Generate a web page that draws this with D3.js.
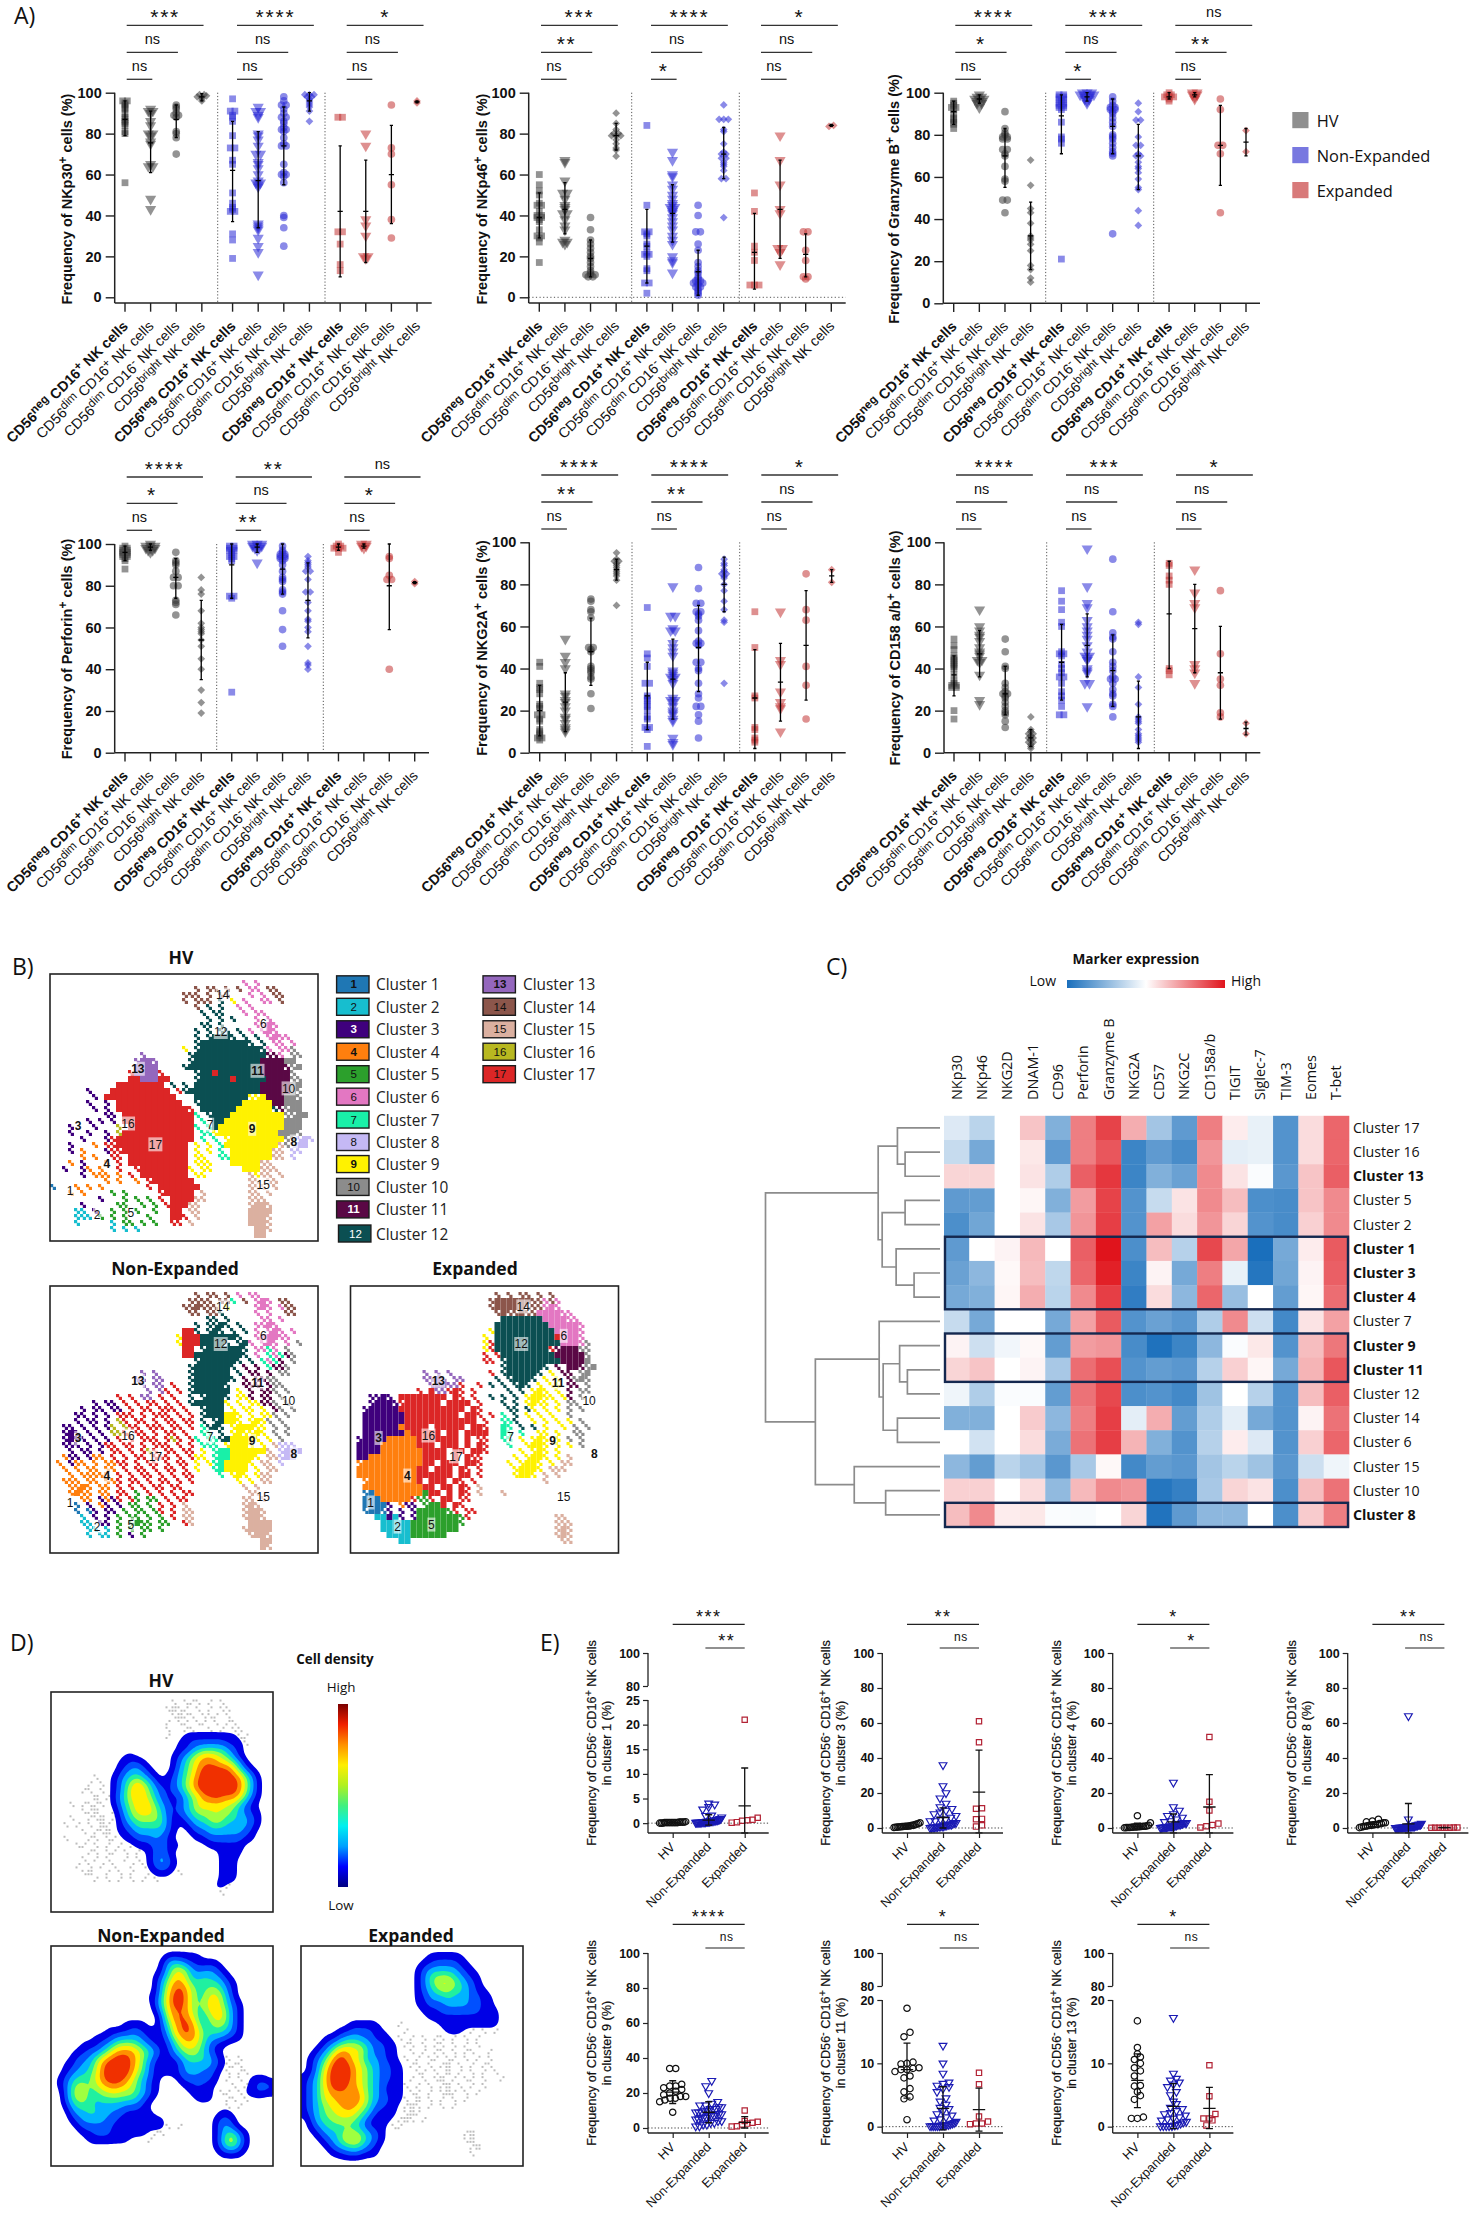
<!DOCTYPE html>
<html>
<head>
<meta charset="utf-8">
<script src="https://cdn.jsdelivr.net/npm/d3@7"></script>
<style>
  body { margin: 0; background: #fff; }
  text { font-family: "Liberation Sans", Arial, sans-serif; fill: #111; }
  .cal text, text.cal { font-family: "Open Sans", sans-serif; }
</style>
</head>
<body>
<div id="viz-container"></div>
<script>
// ---------- panel A values (%), 12 groups each: HV, Non-Expanded, Expanded x 4 subsets
const subsetLabels = ["CD56^{neg} CD16^{+} NK cells", "CD56^{dim} CD16^{+} NK cells", "CD56^{dim} CD16^{-} NK cells", "CD56^{bright} NK cells"];

const nkp30Values = [
  [96,96,95,94,93,92,90,88,87,86,85,84,81,80,56],
  [92,91,91,90,86,84,80,80,79,76,75,65,64,64,48,43],
  [94,93,92,90,89,89,88,81,80,78,70],
  [99,99,98.5,98,98,97,96],
  [97,91,91,89,88,86,79,73,73,67,65,51,46,44,43,42,42,31,28,19],
  [93,91,91,89,88,80,79,77,74,70,70,66,65,63,60,57,56,56,55,54,36,35,34,33,29,25,22,11],
  [98,96,94,94,92,90,88,88,86,85,83,82,82,81,78,75,74,74,65,61,60,60,59,56,40,39,34,25],
  [99,99,99,98,98,97,96,95,94,93,91,86],
  [88,88,32,32,26,16,13],
  [80,74,38,35,30,20,20,19],
  [94,73,70,55,38,29],
  [96,95]
];
const nkp30Stats = [[87,79,96],[75.5,61,91],[87,78,94],[98,96,99.5],[62,37,86],[57,34,81],[74,55,93],[96,91,100],[42,10,74],[42,17,67],[60,36,84],[95.5,95,96]];

const nkp46Values = [
  [60,55,52,50,46,45,45,42,40,40,39,39,38,37,33,30,30,29,27,17],
  [67,66,57,51,51,48,45,44,43,41,41,38,35,33,28,27,27,26],
  [39,33,28,26,24,22,20,19,17,15,13,12,11,11,11,10,10],
  [90,85,82,80,80,79,79,79,77,75,73,72,69],
  [84,45,32,32,31,30,26,25,22,21,21,20,14,13,7,7,2],
  [71,67,60,59,55,53,50,48,46,45,44,44,43,42,41,39,37,35,33,30,28,26,20,18,17,12],
  [45,40,32,32,26,23,17,15,13,12,10,9,8,8,7,7,7,6,5,5,4,3,2,1],
  [94,87,87,87,82,81,75,71,70,70,68,68,66,65,64,62,58,58,39],
  [51,42,25,22,18,6,6,6],
  [79,67,55,43,41,24,24,22,16],
  [32,32,23,18,10,10,9],
  [84,83.5]
];
const nkp46Stats = [[39,29,51],[43,31,56],[19,10,28],[79,72,85],[25,7,43],[41,27,55],[12.5,1,23],[70,58,83],[22,4,41],[43,19,67],[21,10,31],[84,83.5,84.5]];

const granzymeValues = [
  [96,95,94,93,93,92,90,88,87,86,85,83],
  [99,98,98,97,97,97,96,96,95,95,93],
  [91,83,81,80,79,79,78,78,73,73,71,70,65,59,58,49,49,43],
  [68,56,45,43,38,32,31,30,28,25,18,16,12,10],
  [99,99,98,98,97,97,96,95,95,94,94,93,93,92,86,79,78,76,21],
  [100,100,100,99,99,99,99,98,98,97,97,96,95],
  [98,96,94,93,93,92,92,91,90,88,86,84,80,79,78,76,74,72,71,70,33],
  [95,91,87,87,79,75,75,71,70,70,67,65,64,62,59,55,54,44,37],
  [100,99,99,98,98,98,97,96],
  [100,100,99,99,98,97],
  [97,92,75,75,71,43],
  [82,72]
];
const granzymeStats = [[91,85,96],[97,95,99],[70,55,83],[32,16,48],[89,71,99],[98,96,100],[84,71,97],[70,54,85],[98,97,100],[99,98,100],[75,56,94],[76.5,70,83]];

const perforinValues = [
  [99,98,98,97,97,96,96,95,95,94,94,93,92,88],
  [100,99,99,99,98,98,98,97,97,96],
  [96,92,91,90,87,84,84,80,80,73,72,71,66],
  [84,78,76,68,62,60,59,58,57,54,51,45,40,30,24,19],
  [99,99,98,98,97,97,96,95,94,94,93,92,75,75,74,29],
  [100,100,100,99,99,99,98,98,97,91],
  [99,97,96,95,95,94,94,93,93,92,90,87,84,83,82,78,77,76,68,59,51],
  [94,92,91,90,89,87,87,83,77,77,72,68,64,63,60,58,51,43,42,40],
  [100,99,99,98,98,98,96],
  [100,100,99,99,98],
  [94,93,85,83,83,40],
  [82,81]
];
const perforinStats = [[96,92,99],[98.5,97,100],[84,74,93],[54,35,73],[90,74,100],[98.5,96,100],[88,76,100],[73,55,91],[98.5,97,100],[99,98,100],[80,59,100],[81.5,81,82]];

const nkg2aValues = [
  [43,41,33,31,30,28,23,22,21,18,18,16,15,11,10,9,8,7,7,6],
  [54,46,43,40,28,27,25,24,22,20,17,16,14,12,11,10],
  [73,72,68,67,64,50,50,49,48,41,40,39,38,36,35,28,21],
  [95,92,91,91,90,89,88,87,86,85,84,82,70],
  [69,47,45,41,33,33,27,26,25,23,22,20,17,16,12,12,11,3],
  [79,65,65,59,58,58,52,50,48,46,39,38,37,36,36,35,33,26,25,25,24,22,20,19,18,16,15,7,5,4],
  [88,78,71,71,67,67,66,65,63,58,53,52,52,51,43,43,40,39,33,28,26,22,22,18,15,7],
  [92,90,89,87,86,85,85,84,83,80,77,72,68,63,62,33],
  [67,50,27,26,12,11,7,6,5],
  [67,44,42,29,24,22,21,10],
  [85,68,63,41,32,16],
  [87,81]
];
const nkg2aStats = [[20,8,32],[24,10,38],[48,32,64],[87,82,92],[27,11,43],[35,16,54],[50,29,70],[80,67,93],[26,2,49],[33.5,15,52],[51,25,77],[84,81,87]];

const cd158Values = [
  [54,51,49,46,45,44,43,42,41,40,37,34,33,32,32,31,31,20,16],
  [68,60,58,56,55,53,50,48,47,46,44,44,43,37,25,23],
  [54,48,41,40,33,31,29,28,28,27,26,24,22,20,19,18,15,12],
  [17,11,10,9,9,8,7,7,6,5,5,4,3,2],
  [77,72,68,62,60,48,47,47,46,42,40,38,36,36,33,29,27,25,22,18,18],
  [97,79,71,69,63,60,58,56,54,51,48,46,46,45,44,40,39,38,33,33,22],
  [92,67,57,55,54,48,43,41,39,36,35,35,33,30,28,27,23,22,17],
  [62,61,36,31,23,17,16,15,14,11,9,8,7,6,5],
  [90,89,84,82,80,40,39,37],
  [87,76,71,69,42,40,38,33],
  [77,47,35,32,19,17],
  [14,9]
];
const cd158Stats = [[37,27,46],[47,36,58],[28,18,41],[7,3,11],[43,25,61],[51,36,66],[39,22,56],[17,2,34],[66,40,91],[59,38,80],[38,16,60],[11.5,8.5,14.5]];

const nkp30Sig = ["***","ns","ns","****","ns","ns","*","ns","ns"];
const nkp46Sig = ["***","**","ns","****","ns","*","*","ns","ns"];
const granzymeSig = ["****","*","ns","***","ns","*","ns","**","ns"];
const perforinSig = ["****","*","ns","**","ns","**","ns","*","ns"];
const nkg2aSig = ["****","**","ns","****","**","ns","*","ns","ns"];
const cd158Sig = ["****","ns","ns","***","ns","ns","*","ns","ns"];

// ---------- panel C
const markers = ["NKp30","NKp46","NKG2D","DNAM-1","CD96","Perforin","Granzyme B","NKG2A","CD57","NKG2C","CD158a/b","TIGIT","Siglec-7","TIM-3","Eomes","T-bet"];
const heatRows = ["17","16","13","5","2","1","3","4","7","9","11","12","14","6","15","10","8"];
const heatBold = ["13","1","3","4","9","11","8"];
const heatValues = [
  [-.15,-.3,0,.25,-.55,.55,.8,.35,-.4,-.7,.55,.08,-.1,-.75,.15,.65],
  [-.25,-.6,0,.1,-.7,.55,.72,-.85,-.7,-.8,.45,-.12,-.1,-.75,.15,.65],
  [.18,.18,0,.12,-.35,.68,.85,-.85,-.55,-.65,.5,.12,-.02,-.72,.25,.68],
  [-.7,-.68,0,.04,-.55,.42,.8,-.75,-.25,.12,.5,.28,-.78,-.8,.25,.5],
  [-.78,-.62,0,.12,-.38,.45,.82,-.75,.4,.15,.45,.18,-.75,-.8,.2,.5],
  [-.7,0,.05,.3,0,.68,1,-.78,.28,-.32,.78,.38,-1,-.6,.08,.7],
  [-.65,-.5,.03,.28,-.28,.65,.95,-.85,.05,-.6,.55,-.1,-.95,-.62,.05,.68],
  [-.6,-.55,.04,.35,-.3,.5,.82,-.9,.15,-.5,.65,-.45,0,-.68,.04,.62],
  [-.25,-.6,0,0,-.6,.4,.7,-.75,-.65,-.72,-.35,.5,-.22,-.82,.12,.4],
  [.05,-.22,-.06,.03,-.68,.42,.45,-.8,-.98,-.85,-.5,-.02,.1,-.75,.28,.58],
  [.18,.25,0,.05,-.38,.62,.75,-.75,-.68,-.72,-.32,.2,.04,-.6,.32,.72],
  [-.07,-.35,-.02,-.02,-.68,.6,.78,-.78,-.75,-.82,-.42,0,-.32,-.75,.28,.68],
  [-.55,-.55,0,.22,-.5,.55,.82,-.12,.35,-.68,-.35,-.12,-.6,-.75,.05,.6],
  [0,-.2,0,.15,-.58,.6,.82,.32,-.55,-.75,-.32,.08,-.15,-.75,.2,.65],
  [-.5,-.68,-.3,-.4,-.72,-.38,.03,-.82,-.68,-.72,-.4,-.3,-.42,-.72,-.22,-.07],
  [.2,.2,0,.15,-.48,.3,.5,.45,-.95,-.88,-.38,.18,.12,-.78,.28,.6],
  [.28,.5,.08,.1,-.02,-.03,0,.18,-.97,-.7,-.5,-.5,0,-.78,.22,.55]
];
// dendrogram: [merge height, child, child]
const dendroTree = [175,
  [62, [42.7,"17",[35,"16","13"]], [58,[35,"5","2"],[44,"1",[26,"3","4"]]]],
  [125, [61,"7",[57,[40.5,"9",[32.7,"11","12"]],[42.7,"14","6"]]], [86,"15",[54.5,"10","8"]]]];

// ---------- panel E
const eGroups = ["HV","Non-Expanded","Expanded"];
const cluster1Values = [
  [.3,.2,.2,.2,.2,.1,.1,.1,.1,.1,.1,.1,.1,.1,0,0,0],
  [4,3.8,3.3,2.8,1.6,1.5,1.2,.9,.8,.7,.6,.6,.5,.5,.4,.4,.4,.3,.3,.3,.3,.2,.2,.2,.2,.1,.1,.1,.1,.1,.1],
  [21,1.1,.7,.6,.5,.2,.1]];
const cluster1Stats = [[.1,0,.25],[.6,-.4,1.7],[3.5,-2,11.2]];
const cluster3Values = [
  [3,2.5,2.2,2,1.5,1.5,1.2,1.1,1,1,.9,.8,.7,.6,.5,.4,.3],
  [36,24,20,17,14,12,11,10,9,8,7,6,5,5,4,4,3,3,2.5,2,2,2,1.5,1.5,1,1,1,.8,.6,.5,.4,.3,.2,.1],
  [61,49,11.3,11,5.2,5,1.5,.8]];
const cluster3Stats = [[1.2,.4,2],[6,0,11.5],[20.5,-2.8,44.5]];
const cluster4Values = [
  [7,3,1.5,1.2,1,1,.9,.8,.7,.6,.6,.5,.4,.3,.3,.2,.1],
  [26,12,10,8,7,6,5,4,3.5,3,3,3,2.5,2.5,2,2,2,1.5,1.5,1,1,1,1,.8,.6,.5,.5,.4,.3,.2,.1],
  [52,15,10,2.5,1.7,1,.3]];
const cluster4Stats = [[1,-.5,2.7],[3.5,-2.8,8],[12,-2.8,30.5]];
const cluster8Values = [
  [5,4,3.5,3,3,2.5,2.5,2,2,1.8,1.5,1.5,1.2,1,.8,.5,.2],
  [64,5,2.5,2,2,2,1.5,1.5,1.5,1,1,1,1,.8,.8,.8,.6,.6,.5,.5,.4,.4,.3,.3,.2,.2,.1,.1,.1,.1],
  [.3,.3,.2,.2,.2,.1,.1,.1]];
const cluster8Stats = [[2,.7,3.3],[2.3,-2.8,14],[.2,.1,.3]];
const cluster9Values = [
  [34,34,25,24,24,23,22,21,20,19,18,18,17,17,16,15,9],
  [27,24,20,15,14,13,13,12,12,11,11,11,10,10,9,9,9,8,8,8,7,7,7,6,6,6,5,5,4,4,3,3,2,2,1,1],
  [10,4,3.5,3,2.5,2,1,.8]];
const cluster9Stats = [[20.5,14,27],[9,3,15],[3.2,0,6.5]];
const cluster11Values = [
  [18.7,14.9,14.2,10.2,10,9.9,9.3,9.2,9,9,8.7,8,7.7,6,5.5,4.7,4.4,1.1],
  [12.8,10,8.4,7,6.8,6.5,6.3,6,5.5,4.5,4,3.5,3,2.8,2.5,2,1.8,1.5,1.2,1,.8,.6,.5,.4,.3,.3,.2,.2,.2,.1,.1,.1,.1,.1,.1],
  [8.5,6.7,1.6,.8,.5,.5,.4]];
const cluster11Stats = [[9,4.5,13.2],[2.9,-.5,6.3],[2.7,-.7,6.1]];
const cluster13Values = [
  [16.7,12.5,11.5,11,10.6,10,9.3,8.8,8,6.5,6.4,5.5,4.9,4.3,1.5,1.3,1.3],
  [17.2,8.4,7.6,7.3,7,6.7,6.3,5.5,5,4,3.6,3,2.8,2.5,2.2,2,1.8,1.5,1.3,1.2,1,.8,.7,.5,.3,.2,.1,.1,.1,.1,.1],
  [9.7,4.8,2,1.3,1.3,1,.2]];
const cluster13Stats = [[7.3,3,11.5],[3.2,-.3,6.8],[2.9,-.3,6.2]];

// ---------- panel B: clusters and cell maps
// a..q = clusters 1..17, lower case = scattered cell, upper case = filled area
const clusterColors = ["#1f77b4","#17becf","#3f007d","#ff7f0e","#2ca02c","#e377c2","#19f0a8","#c5b9f5","#fff200","#8c8c8c","#5a0845","#0b4f52","#9467bd","#8c564b","#dbb0a0","#b8b820","#dc2626"];
const hvCells = ["",
"................................f.f",
"........................n.nn.n.n.ff.nn",
"......................nnn.n.nn...f.f.nn",
"......................n.nnn.l.i.f..ff.n",
"........................n.l.l..f.f",
".........................l.ll...f.ff",
"..........................l.l.l...f.f",
".........................ll.l.....ffFf",
"........................l.l.ll.l.f.fFf",
"........................l.lLlLl.l.l.fFff",
"........................lLLLLLLLLl.l.ff.f",
"......................i.lLLLLLLLLLLlf.ffj",
"...............m.......lLLLLLLLLLLLLkkf.jj",
"..............mMMm.....lLLLLLLLLLLLKKKKjJ",
"..............MMMM....lLLLLLLLLLLLLKKKKkjJ",
".............qMMMMq.....lLLqLLLLLLLKKKKKj",
".............QQMMMQQ....lLLLLLqLLLLLKKKKjj",
"...........QQQQQQQQ.l.l.LLLLLLLLLLLKKKKKjJ",
"......c...QQQQQQQQQQ.qlLLLLLLLLLLLLkKKKKJj",
".......c.QQQQqQQQQQQQ...LLLLLLLLLiiIKKKjJj",
"......c..c.QQQQQQQQQQQ..lLLLLLLLIIIIIkKjJJ",
".......c.c.QQQQQQQQQQQQq.LLLLLLIIIIIIlkjJJ",
".........cc.QQQQQQQQQQQQg.lLLLIIIIIIIIIjjJJ",
"......c.c.c.QQQQQQQQQQQQ.g.LLIIIIIIIIIIjJJ",
"...c...c...p.QQQQqQQQQQQg.gLIIIIIIIIIIIjJJ",
"...c..c..c.pQQQQQQQQQQQQ.ggiIIIIIIIIIIjJJj",
".....c...cqQQQQQQQQQQQQQ.g.g.iIIIIIIIIIjjhHh",
"...c...d.qqQQQqQQQQQQQQ.i.i.gIIIIIIIIIojhHH",
"...c.d...cqqQQQQQQQQQQQ.i.i.g.IIIIIIIoo.hh",
".....d.d..qq.QQQQQQQQQQ.ii..ggIIIIIIIoo.h",
"...d.c...d.q.QQQqQQQQQQ.iii...IIIIIoo",
"..c..cd.d..q..qQQQQQQQQi.ii.....IiIooo",
".....c.ddd.d.q.QQQQQQQQ.ii.......oioo.o",
".........d.d..d.qQQQQQQQ.........oo.oo",
"a...d.d.d.......q.QQQQQQQ........ooo.o",
"...d.d....e.e.....qQQQQQ.o.......oo.o",
"........c...e.e.e.q.QQQQoo.......ooo",
".....c.....ee..e.e.qQQQoo........oOOo",
"....bb.c..e.e.e..e..QQ.oo........OOOO",
"....bbb.e.e.e...e...QQq.o........OOOo",
"....b.....b.ee.e.e..qq.o.........OOOo",
"..........b.b.b...................OOo",
"..................................OO"];
const nonExpandedCells = ["",
"........................n.nn.n.f.ff",
".......................nnnn.nng.n.fFf.nn",
"......................nnNnnn.i....fFf.fnn",
".......................nn.nnl.....f.f..nn",
"..........................ll.l.....ff.f",
"........................l.llLl.l..ffFf",
"......................QQl.lLl.l.l.f.fFf.f",
".....................iQQQlLlLlLl..fFfFff",
".....................iQQQLlLLl.lLf.fFf.f.j",
"......................QQ.lLlLLlLl.ffgf.j",
"......................QQlLlLlLlLl.f.gfgkj",
"........................lLlLLlLl.l.gfgk.j",
".......................lLlLlLLl.k.k.gkkj",
"...............m.m.....lLLlLlL.l.kk.k.jj",
"..............mm.mm....lLlLLlLl.k.kkjj",
"...............m.mm.q..lLlLlLl..kkk.kjj",
"................m.mq.q.lLlLLlL.i.k.kkj.j",
"...........q.q.mm.q.q..l.lLlLl.iik.kk.j",
".......c.cc.q.q.qq.q.q.lLlLlLi.i.iikkj.j",
".....c.cc.cc.q.qq.qqq.q..lLlL.i.ii.i.kj.j",
"....cc.c.c.qqq.q.qqq.q.q.lLlLiIi.i.iij.j",
"....c.cc.c.pq.qq.q.qq.qq.l.lLiIi.iIij.j",
"..cc.c.c.cp.pqq.qqq.qq.q.glLl.iIiIii.j.j",
"..cCc.c.c.ppq.qq.q.qq.q..gg.l.iIiiIi.j.j",
"..cCcc.c.c.q.q.qqq.qpq.qg.gglLiIiIi.i.j",
"..ccc.c.cqq.qq.q.qqq.q.q.ggg.iIiIi.i.ohhh",
"...c.cc.c.qq.q.qpq.qq.qq.i.gGGiIiIiIo.hHHH",
"..dcc.cdd.q.q.qq.qqq.q.qii.gGGiIiIi.oohHH",
".d.cdd.d.ddqq.q.qq.q.qq.i.igGiIiIi.oo.h",
"..d.d.dd.dd.q.qq.q.qq.q.i..gGiIiI.i.oo",
"...d.ddddd.q.q.qq.q.q.qq....g.iIi.ioo",
"..ddd.dd.ddq.qq.q.qq.q.q.......i.i.oo",
"...ddDd.dd.q.q.q.qq.qq..........o.o",
"...dDdd.dd.qq.e.q.q.q.qq.........oo",
".....dd.cdcq.qe.ee.q.qq.........oo.o",
"....a.c.dc.c.ee.e.q.q.o.........oOo",
"....a.ac.cc.e.ee.eq.q.oo........oOOo",
".....b.c.c.e.ee.e.e.q.oo........oOOo",
".....bb.cc.e.eEee.ee..qo.........OOOO",
"......bb.b.e.e.ee.e.............oOOOO",
"......b.bb.e.c.e.................oOOo",
"...................................OO",
"...................................Oo"];
const expandedCells = ["",
"........................n.n.nn.n.n",
".......................nNnNnNNnnfnf",
".......................nNNNnNnnnfFf",
"........................nNnnNnnFfFFff",
".........................LLLLLLLFFFFff",
"........................LLLLLLLLLFFFFFf",
".......................iLLLLLLLLLLFFFFf",
"......................i.LLLLLLLLLLqFFFf",
"......................iqLLLLLLLLLLlFfFfj",
"......................iqLLLLLLLLLqkKkKjj",
"......................q.qLLLLLLLLLkKKKKj",
"......................qq.lLLLLLLLLLkKKKJ",
".........................lLlLLlLl.k.KKkjJ",
"............m.m.m......q.lLlLlLl.i.kk.jJ",
"............mmMm.mm.....l.lLlLl.i.i.kjJj",
".............mMMmmq..q.l.l.lLl.i.ii.kk.j",
"...........q.QmmqQq.q.....l.l.iIi.i.k.jj",
"...ccCc.QQQQQQqQ.Qq.q..l.l.l.iIIii.ik.j",
"...cCCCcqQQQQQQ.QQqQ.q...l.l.iIii.i.jj",
"..cCCCCCqQQQQQQQqQQ.Qq....ll.li.i.i.j.j",
"..CCCCCCCqQQQQQqQQ.QQq.q.g.l.i.i.i..j",
"..CCCCCCCQQQqQQQQQqQQ.q..ggl..i.i.i.i.j",
"..CCCCCCdQQQQ.QQQQQ.QQq..Gg.l.l.i..i.j.j",
"..CCCCCCCDQQQQQ.QQ.QQqQ..Gg.g..ii.i..jj",
".cCCCCDDDDDQQqQQQQ.Q.qq..gg.i.iIi.i.j.j",
".CCCCDDDDDDQQQ.QQQ.Q.Qq...g..iIIi.i.i.j",
".CCCCDDDDDDDQQQQ.QQ.QQq.....i.iIi.i",
".CCdDDDDDDDDQqQQ.Q.Qqq.....i.iIIi.i.o",
".dDDDDDDDDDDQQ.QQQ.QQq....i.iIIi.i.oo",
".DDDDDDDDDDqQ.QQQ.Qq.q.....iIIIi.ooo",
".DDDDDDDDDDQQQqQQ.QQ.q.....iIIi.o.o",
"..dDDDDDDDDQ.QQQ.Qq.q...........o",
"..DDDDDDDDDDqQ.QQ.Qq.o",
"..aADDDDDDDDeQQ.Q.Qq.o...o",
"..AAAdDDDDqeeq.QQ.qq",
"..AAaAc.dcc.eEeQ.Qq",
"..aAAac.c.cEeEEEeq.qq",
"....BBcBc.cEEEEEEEeq..............oo",
".....BBBBbEEEEEEEEe...............ooo",
".....BBBBBEEEEEEEE................oOo",
"......BBBbEEEEEE..................oOo",
"........BB.........................oo"];

// ---------- panel D: density levels 1..9, + : * = grey background cells
const hvDensity = ["",
"....................+.+:+.:.+",
"...................+*+:.+.:.++",
"....................+*:+.++:.+",
"...................:.+:.+:.+.:+",
"...................+..:+..+.:.++",
"...................:..111111111+:",
".....................11222222111+",
".....................11234444321",
"............11......123567765421",
"...........11221....1245677766531",
"...........123321...13457888886421",
".......+..12344321.1234678888887531",
"......:.+.1245754211235688988887531",
".....:+.+.1246764321234678888887531",
".......*.:1346665321113457787776421",
"...+.:+:+.124566643212346666655321",
".....+:*..:235666532123455555543211",
"...+..:+*.:134555542112344565443321",
"..+.:.+.*:.1234444421.1233444333321",
".....+.:+*.1123333321..12233333321",
"..+...:+.+:.11222321....1122222211",
"....+:.+.:.:.:11122211....111111",
"......:+.+:.+.:.1221........1111",
".....+.:.+..:.+.12421.......111",
"....:.+.:.+..:.+12321.......111",
".....+*..:.+.:..:111.+......111",
".......:.+.:.+.:.+..........111",
"...........................11:",
"............................+"];
const nonExpandedDensity = ["",
"...................111111",
"..................1343211111",
"..................13565322321",
".................1246653343321",
".................13577644444321",
".................13678754455421",
"................114688754466531",
".................246887545665321",
".................136777544666421",
"..................25787643566421",
"............1111..24678753455421",
".........11112211113678764444321",
".......1112333321112567764332211",
".....111234555432111356654211",
"....112234677765431134555321",
"...12234678887643111124444321+.+",
"..112335788887642111113333321+:+",
"..12334578988754211112333221.+.:+",
".12344467888764321...1222221.:.+.111",
".12455456777654311....11211...+.:12321",
"..2465445565554321.....1111.+:.+11211",
"..245543444444321.......111..:+.+",
"..13444333332221.............+.:",
"...23344332211111...........11",
"...1233332211111111........1221",
"....122222111111111+.:.....1331",
".....11222111111.:+........124421",
"......1111111...:..........136631",
"...........................124421",
"............................1111"];
const expandedDensity = ["",
".....................111111",
"....................11222211",
"...................1233333211",
"...................12455543211",
"...................12456654321",
"...................123455443211",
"...................1133343332211",
"...................1122233332211",
"....................1112222222111",
".....................111111111111",
"........11111...:......1111111111",
"......11222211...:......111.:.+.:",
"....11233322111.+.:.+.:+.:.+.:",
"...1234555432211.:+.+.:+.+.:.+.",
"..12357766532211..+.:.:+.+.:+..:",
".123578765423211.+.:.+:.+:.+.:.+.",
".1246888765432211.:+.+.:*.+.:.:+",
".1257898765432211..+:.+.*.:.+.:.+",
"12357888765432211.:.+.+*.:.+:.+..:",
"12357887765432111+.:.+.:*.+.:.+.",
"12356777775432111.+:.:.+*:.+.:",
"12356677876432211+.*.+.:.+.:",
"1234566776542211.:*+.:.+.:",
"1234556665431111.+*:.",
".13445555431111.:*+.:",
".1234444432111.+:..",
"..123345554321.............:*",
"...12346664321.............+*",
"....123344321...............:*",
".....11222111...............+"];

// ---------- layout
const svgW = 1471, svgH = 2215;
const svg = d3.select("#viz-container").append("svg").attr("width", svgW).attr("height", svgH);
const axisColor = "#222";

// writes "CD56^{neg} CD16^{+}" with real superscripts
function rich(sel, str) {
  str.split(/(\^\{[^}]*\})/).forEach((part) => {
    if (!part) return;
    if (part[0] === "^") {
      sel.append("tspan").attr("baseline-shift", "38%").attr("font-size", "82%").text(part.slice(2, -1));
    } else {
      sel.append("tspan").text(part);
    }
  });
}

// bins by pixel height and spreads each bin symmetrically, like a column scatter
function swarm(values, y, binH, step, maxHalf) {
  const sorted = values.slice().sort((a, b) => a - b);
  const out = [];
  let bin = [];
  const flush = () => {
    const st = bin.length > 1 ? Math.min(step, (2 * maxHalf) / (bin.length - 1)) : 0;
    bin.forEach((v, i) => out.push({ v, dx: (i - (bin.length - 1) / 2) * st }));
    bin = [];
  };
  sorted.forEach((v) => {
    if (bin.length && Math.abs(y(v) - y(bin[0])) > binH) flush();
    bin.push(v);
  });
  flush();
  return out;
}

const shapes = [d3.symbolSquare, d3.symbolTriangle, d3.symbolCircle, d3.symbolSquare];
function markerPath(shape, size) {
  return d3.symbol().type(shapes[shape]).size(size)();
}
function markerTransform(shape, x, y) {
  if (shape === 1) return `translate(${x},${y}) rotate(180)`;
  if (shape === 3) return `translate(${x},${y}) rotate(45)`;
  return `translate(${x},${y})`;
}

// ---------- panel A
const aColors = ["#3a3a3a", "#2a2ad6", "#c23434"];
const aPanels = [
  { title: "Frequency of NKp30^{+} cells (%)", values: nkp30Values, stats: nkp30Stats, sig: nkp30Sig, ax: 114.7, y100: 92.7, y0: 297.3, axisY: 303, right: 431.7, t0: 125, t11: 417, div: [217.7, 325], titleX: 66.7, titleY: 199, sigY: [25.3, 52.3, 79.3], sigX: [126.7, 237, 346.7], zero: false },
  { title: "Frequency of NKp46^{+} cells (%)", values: nkp46Values, stats: nkp46Stats, sig: nkp46Sig, ax: 528.7, y100: 92.7, y0: 297.3, axisY: 303, right: 845.7, t0: 539.3, t11: 831.3, div: [631.7, 739.3], titleX: 481.7, titleY: 199, sigY: [25.3, 52.3, 79.3], sigX: [541, 651, 761], zero: true },
  { title: "Frequency of Granzyme B^{+} cells (%)", values: granzymeValues, stats: granzymeStats, sig: granzymeSig, ax: 943.3, y100: 92.7, y0: 303.3, axisY: 303.3, right: 1260, t0: 953.7, t11: 1246, div: [1045.7, 1153.7], titleX: 894, titleY: 199, sigY: [25.3, 52.3, 79.3], sigX: [955.3, 1065.3, 1175.3], zero: false },
  { title: "Frequency of Perforin^{+} cells (%)", values: perforinValues, stats: perforinStats, sig: perforinSig, ax: 114.7, y100: 544, y0: 752.7, axisY: 752.7, right: 429, t0: 125, t11: 414.7, div: [216.7, 323.3], titleX: 66.7, titleY: 649, sigY: [477, 503.3, 530.3], sigX: [126.7, 235.7, 344.3], zero: false },
  { title: "Frequency of NKG2A^{+} cells (%)", values: nkg2aValues, stats: nkg2aStats, sig: nkg2aSig, ax: 529.3, y100: 542.3, y0: 752.7, axisY: 752.7, right: 845.7, t0: 539.7, t11: 831.7, div: [632, 739.7], titleX: 481.7, titleY: 648, sigY: [475, 502, 529], sigX: [541.3, 651.3, 761.3], zero: false },
  { title: "Frequency of CD158 a/b^{+} cells (%)", values: cd158Values, stats: cd158Stats, sig: cd158Sig, ax: 944, y100: 542.3, y0: 752.7, axisY: 752.7, right: 1260.3, t0: 954, t11: 1246, div: [1046.7, 1154.3], titleX: 895, titleY: 648, sigY: [475, 502, 529], sigX: [956, 1066, 1176], zero: false }
];

aPanels.forEach((p) => {
  const g = svg.append("g");
  const y = d3.scaleLinear().domain([0, 100]).range([p.y0, p.y100]);
  const yAxisScale = d3.scaleLinear().domain([y.invert(p.axisY), 100]).range([p.axisY, p.y100]);
  const slot = (i) => i + 0.2 * Math.floor(i / 4);
  const x = d3.scaleLinear().domain([slot(0), slot(11)]).range([p.t0, p.t11]);

  // group dividers and zero line
  p.div.forEach((d) => g.append("line").attr("x1", d).attr("x2", d).attr("y1", p.y100).attr("y2", p.axisY)
    .attr("stroke", "#555").attr("stroke-width", 1).attr("stroke-dasharray", "1.2,2"));
  if (p.zero) g.append("line").attr("x1", p.ax).attr("x2", p.right).attr("y1", p.y0).attr("y2", p.y0)
    .attr("stroke", "#555").attr("stroke-width", 1).attr("stroke-dasharray", "1.2,2.4");

  // points
  p.values.forEach((vals, i) => {
    const group = Math.floor(i / 4), shape = i % 4;
    const px = x(slot(i));
    const size = shape === 3 ? 30 : shape === 1 ? 54 : 46;
    g.append("g").selectAll("path").data(swarm(vals, y, 2, 4.6, 7)).join("path")
      .attr("d", markerPath(shape, size))
      .attr("transform", (d) => markerTransform(shape, px + d.dx, y(d.v)))
      .attr("fill", aColors[group]).attr("fill-opacity", 0.55);
    const [m, lo, hi] = p.stats[i];
    const eb = d3.path();
    eb.moveTo(px, y(lo)); eb.lineTo(px, y(hi));
    eb.moveTo(px - 1.6, y(lo)); eb.lineTo(px + 1.6, y(lo));
    eb.moveTo(px - 1.6, y(hi)); eb.lineTo(px + 1.6, y(hi));
    eb.moveTo(px - 2.6, y(m)); eb.lineTo(px + 2.6, y(m));
    g.append("path").attr("d", eb.toString()).attr("stroke", "#000").attr("stroke-width", 1.3).attr("fill", "none");
  });

  // axes
  const yAx = g.append("g").attr("transform", `translate(${p.ax},0)`)
    .call(d3.axisLeft(y).tickValues([0, 20, 40, 60, 80, 100]).tickSize(9).tickSizeOuter(0));
  yAx.select(".domain").remove();
  g.append("line").attr("x1", p.ax).attr("x2", p.ax).attr("y1", yAxisScale(100)).attr("y2", p.axisY).attr("stroke", axisColor).attr("stroke-width", 1.5);
  yAx.selectAll("line").attr("stroke", axisColor).attr("stroke-width", 1.4);
  yAx.selectAll("text").attr("font-size", 14.5).attr("font-weight", 700).attr("dx", -1);
  g.append("line").attr("x1", p.ax).attr("x2", p.right).attr("y1", p.axisY).attr("y2", p.axisY).attr("stroke", axisColor).attr("stroke-width", 1.5);

  d3.range(12).forEach((i) => {
    const px = x(slot(i));
    g.append("line").attr("x1", px).attr("x2", px).attr("y1", p.axisY).attr("y2", p.axisY + 8.7).attr("stroke", axisColor).attr("stroke-width", 1.4);
    const t = g.append("text").attr("text-anchor", "end")
      .attr("transform", `translate(${px + 4},${p.axisY + 24}) rotate(-45)`)
      .attr("font-size", 14.3).attr("font-weight", i % 4 === 0 ? 700 : 400)
      .attr("fill", i % 4 === 0 ? "#000" : "#333");
    rich(t, subsetLabels[i % 4]);
  });

  const yt = g.append("text").attr("text-anchor", "middle").attr("font-size", 14.5).attr("font-weight", 700)
    .attr("transform", `translate(${p.titleX + 5},${p.titleY}) rotate(-90)`);
  rich(yt, p.title);

  // significance brackets
  const spans = [x(slot(3)) - x(slot(0)), x(slot(2)) - x(slot(0)), x(slot(1)) - x(slot(0))];
  p.sigX.forEach((sx, gi) => {
    spans.forEach((w, li) => {
      const ly = p.sigY[li];
      g.append("line").attr("x1", sx).attr("x2", sx + w).attr("y1", ly).attr("y2", ly).attr("stroke", "#333").attr("stroke-width", 1.3);
      const label = p.sig[gi * 3 + li];
      const lt = g.append("text").attr("x", sx + w / 2).attr("text-anchor", "middle");
      if (label === "ns") lt.attr("y", ly - 8).attr("font-size", 14.5).attr("fill", "#222").text("ns");
      else lt.attr("y", ly - 1).attr("font-size", 21).attr("letter-spacing", 1.8).attr("fill", "#000").text(label);
    });
  });
});

// legend of panel A
const legendRows = [["HV", "#8f8f8f", 112], ["Non-Expanded", "#7878e0", 147], ["Expanded", "#d87a7a", 182]];
legendRows.forEach(([label, color, ly]) => {
  svg.append("rect").attr("x", 1292.3).attr("y", ly).attr("width", 16.2).attr("height", 16.2).attr("fill", color);
  svg.append("text").attr("class", "cal").attr("x", 1316.7).attr("y", ly + 15).attr("font-size", 16.4).attr("fill", "#222").text(label);
});

// panel letters
[["A)", 14, 24], ["B)", 12, 975], ["C)", 826, 975], ["D)", 10, 1651], ["E)", 540, 1651]].forEach(([t, x, y]) => {
  svg.append("text").attr("class", "cal").attr("x", x).attr("y", y).attr("font-size", 23).attr("fill", "#111").text(t);
});

// ---------- panel B
const bLabelPos = [[172,638],[238,697],[192,480],[262,572],[321,692],[645,230],[515,477],[720,518],[618,487],[707,388],[631,345],[541,250],[338,340],[546,158],[645,623],[314,474],[381,525]]
  .map(([zx, zy]) => [(zx - 123) / 2.448, (zy - 108) / 2.448]);
const bBoldLabels = [3, 4, 8, 9, 11, 13];
const bPanels = [
  { name: "HV", cells: hvCells, x: 50, y: 974, tx: 181, ty: 963.5 },
  { name: "Non-Expanded", cells: nonExpandedCells, x: 50, y: 1286, tx: 175, ty: 1275 },
  { name: "Expanded", cells: expandedCells, x: 350.5, y: 1286, tx: 475, ty: 1275 }
];
const bCell = 6;
bPanels.forEach((p) => {
  const g = svg.append("g").attr("transform", `translate(${p.x},${p.y})`);
  const cells = [];
  const isDense = (ch) => ch && ch !== "." && ch === ch.toUpperCase();
  const cx = d3.scaleLinear().domain([0, 44.67]).range([0, 268]);
  const cy = d3.scaleLinear().domain([0, 44.5]).range([0, 267]);
  p.cells.forEach((row, r) => row.split("").forEach((ch, c) => {
    if (ch === ".") return;
    const lower = ch.toLowerCase();
    const k = lower.charCodeAt(0) - 97;
    // a scattered cell sitting inside a filled area is filled too
    if (ch !== lower || (isDense(row[c - 1]) && isDense(row[c + 1]))) {
      cells.push({ x: cx(c), y: cy(r), s: bCell, k });
    } else {
      cells.push({ x: cx(c), y: cy(r), s: 3.2, k }, { x: cx(c) + 2.8, y: cy(r) + 2.8, s: 3.2, k });
    }
  }));
  g.selectAll("rect.cell").data(cells).join("rect").attr("class", "cell")
    .attr("x", (d) => d.x).attr("y", (d) => d.y)
    .attr("width", (d) => d.s).attr("height", (d) => d.s)
    .attr("fill", (d) => clusterColors[d.k]);
  g.append("rect").attr("width", 268).attr("height", 267).attr("fill", "none").attr("stroke", "#222").attr("stroke-width", 1.6);
  bLabelPos.forEach(([lx, ly], i) => {
    const n = i + 1;
    const w = n > 9 ? 14 : 8;
    g.append("rect").attr("x", lx - w / 2).attr("y", ly - 7).attr("width", w).attr("height", 14).attr("fill", "#fff").attr("fill-opacity", 0.6);
    g.append("text").attr("x", lx).attr("y", ly + 4.3).attr("text-anchor", "middle").attr("font-size", 12)
      .attr("font-weight", bBoldLabels.includes(n) ? 700 : 400).text(n);
  });
  svg.append("text").attr("class", "cal").attr("x", p.tx).attr("y", p.ty).attr("text-anchor", "middle")
    .attr("font-size", 17.5).attr("font-weight", 700).text(p.name);
});

// cluster legend
const legendY1 = [133, 188, 243, 298, 353, 408, 464, 519, 573, 629, 684, 743];
const darkSwatch = [3, 11, 12];
d3.range(1, 18).forEach((n) => {
  const col2 = n > 12;
  const zy = col2 ? legendY1[n - 13] : legendY1[n - 1];
  const y = 930 + zy / 2.448;
  const sx = col2 ? 483 : (n === 12 ? 338.5 : 336.6);
  svg.append("rect").attr("x", sx).attr("y", y - 8.5).attr("width", 32.4).attr("height", 17)
    .attr("fill", clusterColors[n - 1]).attr("stroke", "#1c1c1c").attr("stroke-width", 1.4);
  svg.append("text").attr("x", sx + 17).attr("y", y + 4).attr("text-anchor", "middle").attr("font-size", 11.5)
    .attr("font-weight", [1, 3, 4, 9, 11, 13].includes(n) ? 700 : 400)
    .style("fill", darkSwatch.includes(n) ? "#fff" : "#111").text(n);
  svg.append("text").attr("class", "cal").attr("x", col2 ? 523 : 376).attr("y", y + 6).attr("font-size", 15.4).style("fill", "#222").text("Cluster " + n);
});

// ---------- panel C
const heatG = svg.append("g");
const hx = d3.scaleBand().domain(markers).range([944, 1349]);
const hy = d3.scaleBand().domain(heatRows).range([1115.8, 1527]);
const heatColor = d3.scaleLinear().domain([-1, 0, 1]).range(["#1a6fbc", "#ffffff", "#e0141c"]);
heatValues.forEach((row, r) => row.forEach((v, c) => {
  heatG.append("rect").attr("x", hx(markers[c])).attr("y", hy(heatRows[r])).attr("width", hx.bandwidth() + 0.3).attr("height", hy.bandwidth() + 0.3).attr("fill", heatColor(v));
}));
markers.forEach((m) => {
  heatG.append("text").attr("class", "cal").attr("text-anchor", "start").attr("font-size", 14.4).attr("fill", "#222")
    .attr("transform", `translate(${hx(m) + hx.bandwidth() / 2 + 5},1100) rotate(-90)`).text(m);
});
heatRows.forEach((n) => {
  heatG.append("text").attr("class", "cal").attr("x", 1353).attr("y", hy(n) + hy.bandwidth() / 2 + 5).attr("font-size", 14.2)
    .attr("font-weight", heatBold.includes(n) ? 700 : 400).attr("fill", "#222").text("Cluster " + n);
});
[["1", "4"], ["9", "11"], ["8", "8"]].forEach(([a, b]) => {
  heatG.append("rect").attr("x", 945).attr("y", hy(a)).attr("width", 403).attr("height", hy(b) + hy.bandwidth() - hy(a))
    .attr("fill", "none").attr("stroke", "#14284f").attr("stroke-width", 2.4);
});
// dendrogram
const dx = d3.scaleLinear().domain([0, 175]).range([940, 765.5]);
const dendro = d3.path();
function drawTree(node) {
  if (typeof node === "string") return { x: dx(0), y: hy(node) + hy.bandwidth() / 2 };
  const [h, a, b] = node;
  const pa = drawTree(a), pb = drawTree(b);
  const nx = dx(h);
  dendro.moveTo(pa.x, pa.y); dendro.lineTo(nx, pa.y); dendro.lineTo(nx, pb.y); dendro.lineTo(pb.x, pb.y);
  return { x: nx, y: (pa.y + pb.y) / 2 };
}
drawTree(dendroTree);
heatG.append("path").attr("d", dendro.toString()).attr("fill", "none").attr("stroke", "#8c8c8c").attr("stroke-width", 1.7);
// colour key
const defs = svg.append("defs");
const heatGrad = defs.append("linearGradient").attr("id", "heatKey");
[0, 0.5, 1].forEach((o, i) => heatGrad.append("stop").attr("offset", o).attr("stop-color", heatColor(i - 1)));
heatG.append("rect").attr("x", 1067).attr("y", 980).attr("width", 158).attr("height", 8).attr("fill", "url(#heatKey)");
heatG.append("text").attr("class", "cal").attr("x", 1136).attr("y", 964).attr("text-anchor", "middle").attr("font-size", 13.6).attr("font-weight", 700).text("Marker expression");
heatG.append("text").attr("class", "cal").attr("x", 1056).attr("y", 986).attr("text-anchor", "end").attr("font-size", 14).attr("fill", "#222").text("Low");
heatG.append("text").attr("class", "cal").attr("x", 1231).attr("y", 986).attr("font-size", 14).attr("fill", "#222").text("High");

// ---------- panel D
const densityColors = ["#0000e6", "#0050ff", "#00b4ff", "#20f0a0", "#a0ff40", "#ffee00", "#ff9000", "#f03000", "#500000"];
const densityThresholds = [0.5, 1.5, 2.5, 3.5, 4.4, 5.3, 6.3, 7.2, 8.6];
const dCols = 37, dRows = 32, dUp = 3;
const dBoxW = 222, dBoxH = 220;
const dPanels = [
  { name: "HV", rows: hvDensity, x: 51, y: 1692, tx: 161, ty: 1687 },
  { name: "Non-Expanded", rows: nonExpandedDensity, x: 51, y: 1946, tx: 161, ty: 1942 },
  { name: "Expanded", rows: expandedDensity, x: 301, y: 1946, tx: 411, ty: 1942 }
];
const contourPath = d3.geoPath();
dPanels.forEach((p) => {
  const g = svg.append("g").attr("transform", `translate(${p.x},${p.y})`);
  // the maps are smoothed a little so the bands come out round
  const bw = dCols * dUp, bh = dRows * dUp;
  const grid = new Float64Array(bw * bh);
  const specks = [];
  const sx = d3.scaleLinear().domain([0, dCols]).range([0, dBoxW]);
  const sy = d3.scaleLinear().domain([0, dRows]).range([0, 218]);
  p.rows.forEach((row, r) => row.split("").forEach((ch, c) => {
    if (c >= dCols) return;
    if (ch >= "1" && ch <= "9") {
      for (let j = 0; j < dUp; j++) for (let i = 0; i < dUp; i++) grid[(r * dUp + j) * bw + c * dUp + i] = +ch;
    }
    const ox = sx(c + 0.5), oy = sy(r + 0.5);
    if (ch === "+" || ch === "*") specks.push([ox - 1.5, oy - 1.7], [ox + 1.5, oy + 1.7]);
    if (ch === ":" || ch === "*") specks.push([ox - 1.5, oy + 1.7], [ox + 1.5, oy - 1.7]);
  }));
  if (d3.blur2) d3.blur2({ data: grid, width: bw }, 1.5);
  g.selectAll("rect.speck").data(specks).join("rect").attr("class", "speck")
    .attr("x", (d) => d[0] - 1).attr("y", (d) => d[1] - 1).attr("width", 2).attr("height", 2).attr("fill", "#bdbdbd");
  const contours = d3.contours().size([bw, bh]).thresholds(densityThresholds)(Array.from(grid));
  const cg = g.append("g").attr("transform", `scale(${sx(1) / dUp},${sy(1) / dUp})`);
  cg.selectAll("path.level").data(contours).join("path").attr("class", "level")
    .attr("d", contourPath).attr("fill", (d, i) => densityColors[i]);
  g.append("rect").attr("width", dBoxW).attr("height", dBoxH).attr("fill", "none").attr("stroke", "#222").attr("stroke-width", 1.6);
  svg.append("text").attr("class", "cal").attr("x", p.tx).attr("y", p.ty).attr("text-anchor", "middle")
    .attr("font-size", 17.5).attr("font-weight", 700).text(p.name);
});
const jetStops = ["#000080", "#0000ff", "#00a0ff", "#00f0f0", "#40f080", "#b0f020", "#ffee00", "#ff9000", "#f02000", "#7a0000"];
const jetGrad = defs.append("linearGradient").attr("id", "jetKey").attr("x1", 0).attr("y1", 1).attr("x2", 0).attr("y2", 0);
jetStops.forEach((c, i) => jetGrad.append("stop").attr("offset", i / (jetStops.length - 1)).attr("stop-color", c));
svg.append("rect").attr("x", 338).attr("y", 1704).attr("width", 10).attr("height", 183).attr("fill", "url(#jetKey)");
svg.append("text").attr("class", "cal").attr("x", 335).attr("y", 1663.5).attr("text-anchor", "middle").attr("font-size", 13.4).attr("font-weight", 700).text("Cell density");
svg.append("text").attr("class", "cal").attr("x", 341).attr("y", 1692).attr("text-anchor", "middle").attr("font-size", 13.4).attr("fill", "#222").text("High");
svg.append("text").attr("class", "cal").attr("x", 341).attr("y", 1910).attr("text-anchor", "middle").attr("font-size", 13.4).attr("fill", "#222").text("Low");

// ---------- panel E
const eColors = ["#111", "#1a1ab4", "#b22234"];
const ePanels = [
  { n: 1, values: cluster1Values, stats: cluster1Stats, sig: ["***", "**"], ax: 648, top: 1653, ticks: [0, 5, 10, 15, 20, 25, 80, 100], dom: [-2, 25, 80, 100], rng: [180, 47, 33, 0] },
  { n: 3, values: cluster3Values, stats: cluster3Stats, sig: ["**", "ns"], ax: 882.3, top: 1653, ticks: [0, 20, 40, 60, 80, 100], dom: [-2.86, 100], rng: [180, 0] },
  { n: 4, values: cluster4Values, stats: cluster4Stats, sig: ["*", "*"], ax: 1112.7, top: 1653, ticks: [0, 20, 40, 60, 80, 100], dom: [-2.86, 100], rng: [180, 0] },
  { n: 8, values: cluster8Values, stats: cluster8Stats, sig: ["**", "ns"], ax: 1347.7, top: 1653, ticks: [0, 20, 40, 60, 80, 100], dom: [-2.86, 100], rng: [180, 0] },
  { n: 9, values: cluster9Values, stats: cluster9Stats, sig: ["****", "ns"], ax: 648, top: 1953, ticks: [0, 20, 40, 60, 80, 100], dom: [-2.86, 100], rng: [180, 0] },
  { n: 11, values: cluster11Values, stats: cluster11Stats, sig: ["*", "ns"], ax: 882.3, top: 1953, ticks: [0, 10, 20, 80, 100], dom: [-1, 20, 80, 100], rng: [180, 47, 33, 0] },
  { n: 13, values: cluster13Values, stats: cluster13Stats, sig: ["*", "ns"], ax: 1112.7, top: 1953, ticks: [0, 10, 20, 80, 100], dom: [-1, 20, 80, 100], rng: [180, 47, 33, 0] }
];
ePanels.forEach((p) => {
  const g = svg.append("g");
  const bottom = p.top + 180;
  const y = d3.scaleLinear().domain(p.dom).range(p.rng.map((d) => p.top + d));
  const x = d3.scalePoint().domain(eGroups).range([p.ax + 24.7, p.ax + 96.7]);
  const right = p.ax + 120.7;
  const zy = y(0);
  g.append("line").attr("x1", p.ax).attr("x2", right).attr("y1", zy).attr("y2", zy).attr("stroke", "#444").attr("stroke-width", 1).attr("stroke-dasharray", "1.3,2");

  eGroups.forEach((name, i) => {
    const shape = i === 0 ? 2 : i === 1 ? 1 : 0;
    const size = i === 0 ? 32 : i === 1 ? 26 : 28;
    const px = x(name);
    g.append("g").selectAll("path").data(swarm(p.values[i], y, 5.5, 6, 13)).join("path")
      .attr("d", markerPath(shape, size))
      .attr("transform", (d) => markerTransform(shape, px + d.dx, y(d.v)))
      .attr("fill", "none").attr("stroke", eColors[i]).attr("stroke-width", 1.2);
    const [m, lo, hi] = p.stats[i];
    const eb = d3.path();
    eb.moveTo(px, y(lo)); eb.lineTo(px, y(hi));
    eb.moveTo(px - 3.5, y(lo)); eb.lineTo(px + 3.5, y(lo));
    eb.moveTo(px - 3.5, y(hi)); eb.lineTo(px + 3.5, y(hi));
    eb.moveTo(px - 6.2, y(m)); eb.lineTo(px + 6.2, y(m));
    g.append("path").attr("d", eb.toString()).attr("stroke", "#111").attr("stroke-width", 1.3).attr("fill", "none");
  });

  const yAx = g.append("g").attr("transform", `translate(${p.ax},0)`)
    .call(d3.axisLeft(y).tickValues(p.ticks).tickSize(5).tickSizeOuter(0));
  yAx.select(".domain").remove();
  yAx.selectAll("line").attr("stroke", axisColor).attr("stroke-width", 1.2);
  yAx.selectAll("text").attr("font-size", 12.5).attr("font-weight", 700);
  if (p.dom.length === 4) {
    g.append("line").attr("x1", p.ax).attr("x2", p.ax).attr("y1", y(100)).attr("y2", y(80)).attr("stroke", axisColor).attr("stroke-width", 1.3);
    g.append("line").attr("x1", p.ax).attr("x2", p.ax).attr("y1", y(p.dom[1])).attr("y2", bottom).attr("stroke", axisColor).attr("stroke-width", 1.3);
  } else {
    g.append("line").attr("x1", p.ax).attr("x2", p.ax).attr("y1", y(100)).attr("y2", bottom).attr("stroke", axisColor).attr("stroke-width", 1.3);
  }
  g.append("line").attr("x1", p.ax).attr("x2", right).attr("y1", bottom).attr("y2", bottom).attr("stroke", axisColor).attr("stroke-width", 1.3);
  const xAx = g.append("g").attr("transform", `translate(0,${bottom})`).call(d3.axisBottom(x).tickSize(5).tickSizeOuter(0).tickFormat(""));
  xAx.select(".domain").remove();
  xAx.selectAll("line").attr("stroke", axisColor).attr("stroke-width", 1.2);
  eGroups.forEach((name) => {
    g.append("text").attr("text-anchor", "end").attr("font-size", 12.8).attr("fill", "#222")
      .attr("transform", `translate(${x(name) + 3},${bottom + 15}) rotate(-45)`).text(name);
  });

  const cy = p.top + 90;
  const t1 = g.append("text").attr("text-anchor", "middle").attr("font-size", 12.7).attr("stroke", "#111").attr("stroke-width", 0.2)
    .attr("transform", `translate(${p.ax - 52},${cy}) rotate(-90)`);
  rich(t1, "Frequency of CD56^{-} CD16^{+} NK cells");
  g.append("text").attr("text-anchor", "middle").attr("font-size", 12.7).attr("stroke", "#111").attr("stroke-width", 0.2)
    .attr("transform", `translate(${p.ax - 37},${cy}) rotate(-90)`).text(`in cluster ${p.n} (%)`);

  // brackets
  const y1 = p.top - 28.7, y2 = p.top - 5;
  g.append("line").attr("x1", x("HV")).attr("x2", x("Expanded")).attr("y1", y1).attr("y2", y1).attr("stroke", "#222").attr("stroke-width", 1.2);
  g.append("line").attr("x1", x("Non-Expanded") - 3.3).attr("x2", x("Expanded")).attr("y1", y2).attr("y2", y2).attr("stroke", "#222").attr("stroke-width", 1.2);
  g.append("text").attr("x", x("Non-Expanded")).attr("y", y1 - 1).attr("text-anchor", "middle").attr("font-size", 18).attr("letter-spacing", 1.5).text(p.sig[0]);
  const second = g.append("text").attr("x", x("Non-Expanded") + 18).attr("text-anchor", "middle").text(p.sig[1]);
  if (p.sig[1] === "ns") second.attr("y", y2 - 7).attr("font-size", 12).attr("letter-spacing", 0.6);
  else second.attr("y", y2 - 1).attr("font-size", 18).attr("letter-spacing", 1.5);
});
</script>
</body>
</html>
